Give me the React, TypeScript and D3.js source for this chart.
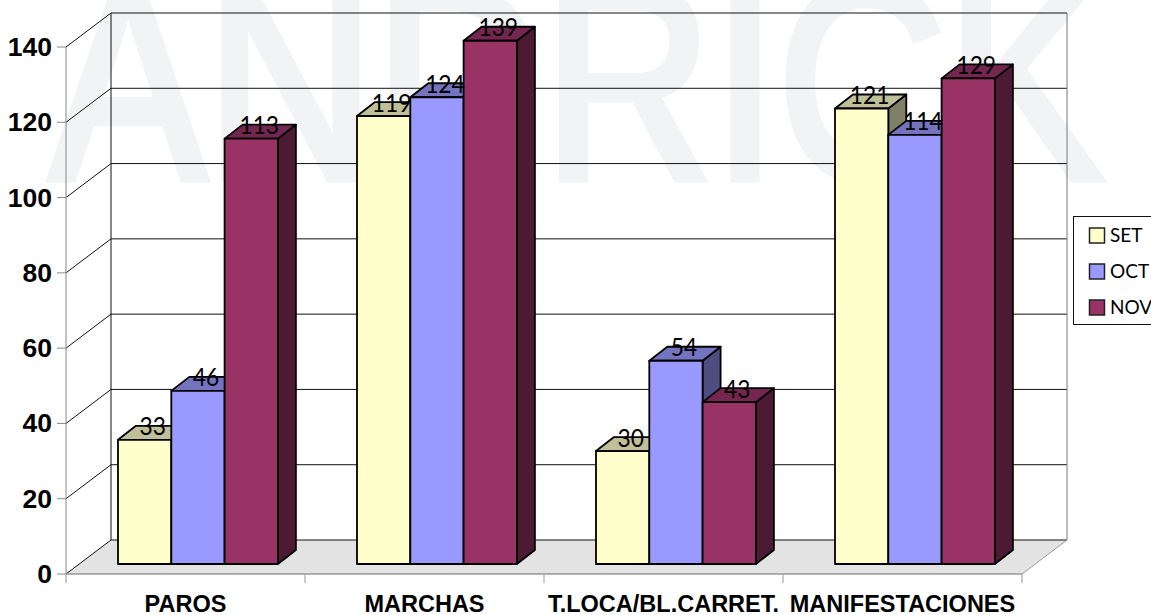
import React from "react";
import * as d3 from "d3";

const categories = ["PAROS", "MARCHAS", "T.LOCA/BL.CARRET.", "MANIFESTACIONES"];
const months = ["SET", "OCT", "NOV"];
const setValues = [33, 119, 30, 121];
const octValues = [46, 124, 54, 114];
const novValues = [113, 139, 43, 129];
const yTicks = [0, 20, 40, 60, 80, 100, 120, 140];

const seriesValues = [setValues, octValues, novValues];
const frontColors = ["#ffffcc", "#9999ff", "#993366"];
const topColors = ["#bfbf99", "#7373bf", "#732650"];
const sideColors = ["#808066", "#4d4d80", "#4d1a33"];

const WIDTH = 1151;
const HEIGHT = 615;
const DEPTH_X = 45; // wall offset
const DEPTH_Y = 34;
const BAR_DX = 18;
const BAR_DY = 14;

const x = d3.scaleBand<string>().domain(categories).range([66, 1022]);
const y = d3.scaleLinear().domain([0, 140]).range([574, 47]);

const poly = (pts: [number, number][]) => {
  const p = d3.path();
  pts.forEach(([a, b], i) => (i === 0 ? p.moveTo(a, b) : p.lineTo(a, b)));
  p.closePath();
  return p.toString();
};

const App: React.FC = () => {
  const left = x.range()[0];
  const right = x.range()[1];
  const y0 = y(0);
  const yMax = y(140);
  const barW = 53.3;
  const barOffset = 52;
  const barBase = y0 - 10;

  return (
    <svg
      width={WIDTH}
      height={HEIGHT}
      style={{ position: "absolute", left: 0, top: 0, background: "white" }}
    >
      {/* watermark */}
      <text
        transform="translate(50,178) scale(0.835,1)"
        fontFamily="Liberation Sans"
        fontSize={280}
        fill="#f1f3f5"
        stroke="#f1f3f5"
        strokeWidth={9}
      >
        ANDRICK
      </text>

      {/* floor */}
      <path
        d={poly([
          [left, y0],
          [left + DEPTH_X, y0 - DEPTH_Y],
          [right + DEPTH_X, y0 - DEPTH_Y],
          [right, y0],
        ])}
        fill="#e3e3e3"
      />

      {/* gridlines on the walls */}
      {yTicks.map((t) => (
        <g key={t} fill="none" stroke="#111" strokeWidth={1}>
          <line x1={left} y1={y(t)} x2={left + DEPTH_X} y2={y(t) - DEPTH_Y} />
          <line
            x1={left + DEPTH_X}
            y1={y(t) - DEPTH_Y}
            x2={right + DEPTH_X}
            y2={y(t) - DEPTH_Y}
          />
        </g>
      ))}
      <line x1={left + DEPTH_X} y1={yMax - DEPTH_Y} x2={left + DEPTH_X} y2={y0 - DEPTH_Y} stroke="#111" />
      <line x1={right + DEPTH_X} y1={yMax - DEPTH_Y} x2={right + DEPTH_X} y2={y0 - DEPTH_Y} stroke="#777" />
      <line x1={right} y1={y0} x2={right + DEPTH_X} y2={y0 - DEPTH_Y} stroke="#999" />

      {/* axes */}
      <line x1={left} y1={yMax} x2={left} y2={y0} stroke="#888" />
      <line x1={left} y1={y0} x2={right} y2={y0} stroke="#999" strokeWidth={1.5} />
      {yTicks.map((t) => (
        <line key={t} x1={left - 9} y1={y(t)} x2={left} y2={y(t)} stroke="#888" />
      ))}
      {[...categories.map((c) => x(c) as number), right].map((px) => (
        <line key={px} x1={px} y1={y0} x2={px} y2={y0 + 9} stroke="#999" />
      ))}
      {yTicks.map((t) => (
        <text
          key={t}
          x={52}
          y={y(t) + 9}
          textAnchor="end"
          fontFamily="Liberation Sans"
          fontWeight="bold"
          fontSize={26.5}
          fill="#000"
        >
          {t}
        </text>
      ))}
      {categories.map((c) => (
        <text
          key={c}
          x={(x(c) as number) + x.bandwidth() / 2}
          y={612}
          textAnchor="middle"
          fontFamily="Liberation Sans"
          fontWeight="bold"
          fontSize={23.5}
          fill="#000"
        >
          {c}
        </text>
      ))}

      {/* bars, left series first so the next front covers its side */}
      {categories.map((c, ci) => (
        <g key={c} stroke="#000" strokeWidth={1.8} strokeLinejoin="round">
          {[0, 1, 2].map((si) => {
            const v = seriesValues[si][ci];
            const bx = (x(c) as number) + barOffset + si * barW;
            const top = barBase - (y0 - y(v));
            return (
              <g key={si}>
                <path
                  d={poly([
                    [bx + barW, top],
                    [bx + barW + BAR_DX, top - BAR_DY],
                    [bx + barW + BAR_DX, barBase - BAR_DY],
                    [bx + barW, barBase],
                  ])}
                  fill={sideColors[si]}
                />
                <path
                  d={poly([
                    [bx, top],
                    [bx + BAR_DX, top - BAR_DY],
                    [bx + barW + BAR_DX, top - BAR_DY],
                    [bx + barW, top],
                  ])}
                  fill={topColors[si]}
                />
                <rect x={bx} y={top} width={barW} height={barBase - top} fill={frontColors[si]} />
              </g>
            );
          })}
        </g>
      ))}

      {/* value labels */}
      {categories.map((c, ci) =>
        months.map((m, si) => {
          const v = seriesValues[si][ci];
          const bx = (x(c) as number) + barOffset + si * barW;
          return (
            <text
              key={m}
              x={bx + barW / 2 + 8}
              y={barBase - (y0 - y(v)) - 4.5}
              textAnchor="middle"
              fontFamily="Lato"
              fontSize={25}
              textLength={String(v).length * 13.2}
              lengthAdjust="spacingAndGlyphs"
              fill="#000"
            >
              {v}
            </text>
          );
        })
      )}

      {/* legend */}
      <rect x={1073.5} y={216.5} width={90} height={108} fill="#fff" stroke="#111" />
      {months.map((m, i) => (
        <g key={m}>
          <rect
            x={1089.5}
            y={228 + i * 36}
            width={15}
            height={15}
            fill={frontColors[i]}
            stroke="#222"
            strokeWidth={1.5}
          />
          <text x={1110} y={242 + i * 36} fontFamily="Lato" fontSize={19} fill="#000">
            {m}
          </text>
        </g>
      ))}
    </svg>
  );
};

export default App;
